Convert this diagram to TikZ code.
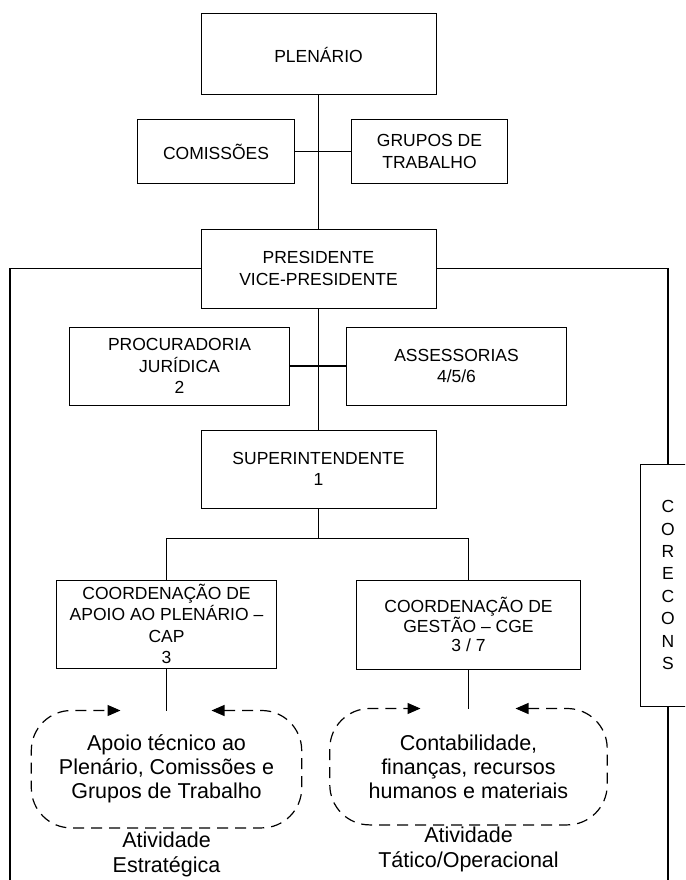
\documentclass[tikz,border=0pt]{standalone}
\usepackage{fontspec}
\setmainfont{Liberation Sans}
\usepackage{tikz}
\usetikzlibrary{arrows.meta,positioning}
\tikzstyle{obox}  = [rectangle, draw, align=center, line width=1pt,
                     minimum width=235pt, minimum height=79pt,
                     font=\fontsize{17.5}{21.5}\selectfont]
\tikzstyle{atext} = [align=center, minimum width=272pt, minimum height=117pt,
                     font=\fontsize{21.5}{24}\selectfont]
\tikzstyle{alabel}= [align=center, inner sep=1pt,
                     font=\fontsize{21.5}{25}\selectfont]
\tikzstyle{cline} = [line width=1.1pt]
\tikzstyle{dloop} = [line width=1.2pt, dash pattern=on 11pt off 7pt,
                     rounded corners=40pt,
                     {Triangle[length=13pt,width=11pt]}-{Triangle[length=13pt,width=11pt]}]

\begin{document}
\begin{tikzpicture}[x=1pt, y=-1pt]
\useasboundingbox (0,0) rectangle (685,880);
\clip (0,0) rectangle (685,880);
% Plenario
\node[obox, minimum height=81pt] (plen) at (318.5,54.5) {PLENÁRIO};
\node[obox, minimum width=157pt, minimum height=63pt,
  below left=24pt and 23.5pt of plen.south] (com) {COMISSÕES};
\node[obox, minimum width=156pt, minimum height=63pt,
  below right=24pt and 32.5pt of plen.south] (grp) {GRUPOS DE\\TRABALHO};
% Presidencia
\node[obox, below=133pt of plen] (pres) {PRESIDENTE\\VICE-PRESIDENTE};
\node[obox, minimum width=220pt, minimum height=78pt,
  below left=18pt and 28.5pt of pres.south] (proc) {PROCURADORIA\\JURÍDICA\\2};
\node[obox, minimum width=220pt, minimum height=78pt,
  below right=18pt and 27.5pt of pres.south] (ass) {ASSESSORIAS\\4/5/6};
\node[obox, minimum height=78pt, below=121pt of pres] (sup) {SUPERINTENDENTE\\1};
% Coordenacoes
\node[obox, minimum width=220pt, minimum height=88pt,
  below left=71pt and 41.5pt of sup.south] (cap)
  {COORDENAÇÃO DE\\APOIO AO PLENÁRIO –\\CAP\\3};
\node[obox, minimum width=224pt, minimum height=89pt,
  font=\fontsize{17.5}{18.5}\selectfont,
  below right=71pt and 37.5pt of sup.south] (cge)
  {COORDENAÇÃO DE\\GESTÃO – CGE\\3 / 7};
\node[obox, minimum width=56pt, minimum height=242pt,
  font=\fontsize{17.5}{22.4}\selectfont] (coc) at (668,585)
  {C\\O\\R\\E\\C\\O\\N\\S};
% Atividades
\node[atext, minimum width=270pt, below=42pt of cap] (apoio)
  {Apoio técnico ao\\Plenário, Comissões e\\Grupos de Trabalho};
\node[atext, minimum width=277pt, minimum height=116pt, below=39pt of cge] (cont)
  {Contabilidade,\\finanças, recursos\\humanos e materiais};
\node[alabel, below=3pt of apoio] (estr) {Atividade\\Estratégica};
\node[alabel, below=1pt of cont] (tat) {Atividade\\Tático/Operacional};
\coordinate (split) at ([yshift=-30pt]sup.south);
\coordinate (lbot) at (10,890);
\coordinate (rbot) at (668,890);
% Lines
\draw[cline] (plen.south) -- (pres.north);
\draw[cline] (com.east) -- (grp.west);
\draw[cline] (pres.south) -- (sup.north);
\draw[cline] (proc.east) -- (ass.west);
\draw[cline] (pres.west) -| (lbot);
\draw[cline] (pres.east) -| (coc.north);
\draw[cline] (coc.south) -- (rbot);
\draw[cline] (sup.south) -- (split);
\draw[cline] (split) -| (cap.north);
\draw[cline] (split) -| (cge.north);
\draw[cline] (cap.south) -- (apoio.north);
\draw[cline] (cge.south) -- (cont.north);
% Dashed loops
\draw[dloop] ([xshift=45pt]apoio.north) -- (apoio.north east) -- (apoio.south east)
  -- (apoio.south west) -- (apoio.north west) -- ([xshift=-46pt]apoio.north);
\draw[dloop] ([xshift=47pt]cont.north) -- (cont.north east) -- (cont.south east)
  -- (cont.south west) -- (cont.north west) -- ([xshift=-48pt]cont.north);
\end{tikzpicture}
\end{document}
